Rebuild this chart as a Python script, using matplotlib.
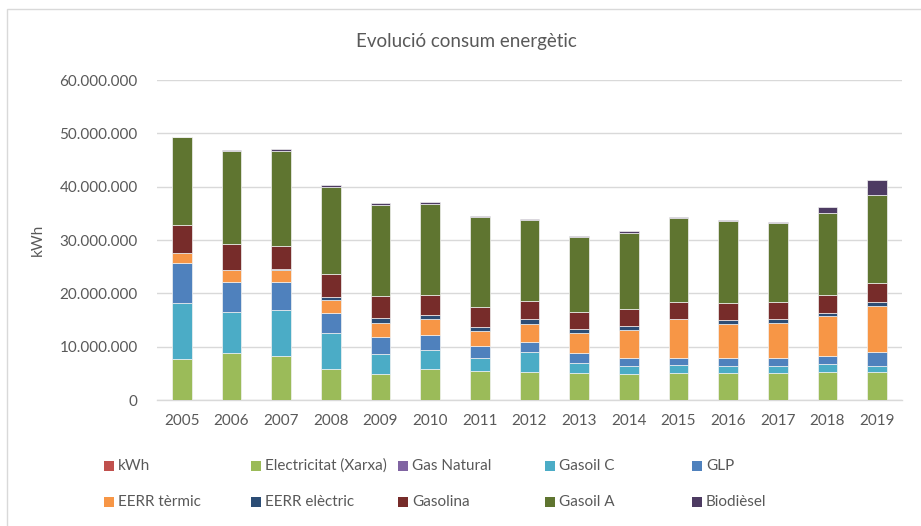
import matplotlib
matplotlib.use("Agg")
import matplotlib.pyplot as plt
from matplotlib.patches import Rectangle
from matplotlib.ticker import FuncFormatter, MultipleLocator
import numpy as np

plt.rcParams['font.family'] = ['Lato', 'DejaVu Sans']

years = ['2005', '2006', '2007', '2008', '2009', '2010', '2011', '2012',
         '2013', '2014', '2015', '2016', '2017', '2018', '2019']

# values in millions of kWh
kwh = [0] * 15
electricitat = [7.7, 8.75, 8.3, 5.9, 4.9, 5.75, 5.5, 5.25, 5.0, 4.87, 5.06, 5.12, 5.06, 5.25, 5.19]
gas_natural = [0] * 15
gasoil_c = [10.5, 7.7, 8.5, 6.7, 3.7, 3.56, 2.3, 3.7, 1.87, 1.57, 1.44, 1.32, 1.38, 1.5, 1.18]
glp = [7.4, 5.75, 5.3, 3.8, 3.3, 2.94, 2.3, 2.0, 1.87, 1.43, 1.44, 1.5, 1.43, 1.44, 2.57]
eerr_termic = [1.96, 2.12, 2.2, 2.3, 2.6, 2.87, 2.75, 3.37, 3.75, 5.3, 7.25, 6.31, 6.57, 7.5, 8.75]
eerr_electric = [0.0, 0.0, 0.2, 0.55, 0.8, 0.75, 0.8, 0.8, 0.75, 0.7, 0.05, 0.69, 0.68, 0.68, 0.62]
gasolina = [5.2, 5.0, 4.4, 4.3, 4.2, 3.88, 3.8, 3.4, 3.2, 3.2, 3.2, 3.18, 3.2, 3.38, 3.63]
gasoil_a = [16.5, 17.44, 17.75, 16.3, 17.1, 17.06, 16.8, 15.3, 14.1, 14.3, 15.6, 15.44, 14.8, 15.25, 16.43]
biodiesel = [0.0, 0.1, 0.45, 0.4, 0.3, 0.38, 0.3, 0.1, 0.2, 0.25, 0.25, 0.25, 0.25, 1.25, 2.87]

series_names = ['kWh', 'Electricitat (Xarxa)', 'Gas Natural', 'Gasoil C', 'GLP',
                'EERR tèrmic', 'EERR elèctric', 'Gasolina', 'Gasoil A', 'Biodièsel']
series_values = [kwh, electricitat, gas_natural, gasoil_c, glp,
                 eerr_termic, eerr_electric, gasolina, gasoil_a, biodiesel]
colors = ['#C0504D', '#9BBB59', '#8064A2', '#4BACC6', '#4F81BD',
          '#F79646', '#2C4D75', '#772C2A', '#5F7530', '#4D3B62']

W, H = 921, 526
fig = plt.figure(figsize=(W / 100, H / 100), dpi=100)
ax = fig.add_axes([157 / W, 1 - 400 / H, (902 - 157) / W, 320 / H])

x = np.arange(len(years))
bottom = np.zeros(len(years))
for name, vals, c in zip(series_names, series_values, colors):
    v = np.array(vals) * 1e6
    lw = 0.5 if v.sum() > 0 else 0
    ax.bar(x, v, 0.4, bottom=bottom, color=c, edgecolor='#F2F2F2', linewidth=lw,
           label=name, zorder=3)
    bottom += v

ax.set_xlim(-0.5, len(years) - 0.5)
ax.set_ylim(0, 60e6)
ax.yaxis.set_major_locator(MultipleLocator(10e6))
ax.yaxis.set_major_formatter(FuncFormatter(lambda v, p: f"{int(v):,}".replace(',', '.')))
ax.set_xticks(x)
ax.set_xticklabels(years)
ax.grid(axis='y', color='#D9D9D9', linewidth=1.0, zorder=0)
for s in ['top', 'right', 'left']:
    ax.spines[s].set_visible(False)
ax.spines['bottom'].set_color('#D9D9D9')
ax.spines['bottom'].set_linewidth(1.0)
ax.tick_params(axis='both', length=0, colors='#595959', labelsize=11)
ax.tick_params(axis='y', pad=14)
ax.tick_params(axis='x', pad=10)
ax.set_ylabel('kWh', color='#595959', fontsize=11)
ax.yaxis.set_label_coords((45 - 157) / (902 - 157), 0.5)

fig.text(466 / W, 1 - 42 / H, 'Evolució consum energètic', ha='center', va='center',
         fontsize=13.5, color='#595959')

# outer frame
fig.patches.append(Rectangle((7 / W, -0.1), 1.2, 1.1 - 9 / H, transform=fig.transFigure,
                             fill=False, edgecolor='#D9D9D9', linewidth=1.0))

# legend (manual, Excel style: 5 columns x 2 rows)
col_x = [104, 251, 398, 545, 692]
row_y = [466, 502]
msz = 10
for i, (name, c) in enumerate(zip(series_names, colors)):
    r, col = divmod(i, 5)
    mx, my = col_x[col], row_y[r]
    fig.patches.append(Rectangle((mx / W, 1 - (my + msz / 2) / H), msz / W, msz / H,
                                 transform=fig.transFigure, facecolor=c, edgecolor='none'))
    fig.text((mx + msz + 4) / W, 1 - my / H, name, ha='left', va='center',
             fontsize=11, color='#595959')

fig.savefig('out.png', dpi=100)
